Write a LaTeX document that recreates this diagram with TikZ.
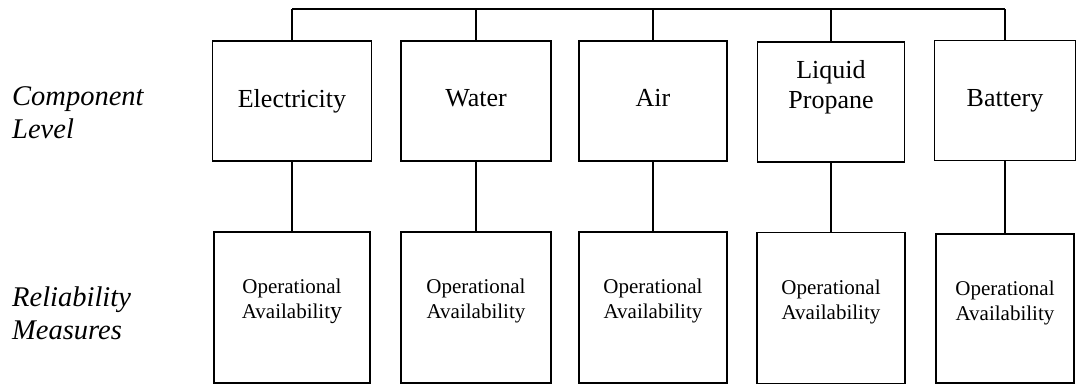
\documentclass[tikz,border=0pt]{standalone}
\usepackage{fontspec}
\setmainfont{Liberation Serif}

\tikzset{
    conn/.style={line width=1.5pt},
    compbox/.style={draw, line width=1.6pt, minimum height=120pt, inner sep=0pt,
        align=center, text depth=6pt, font=\fontsize{26}{30}\selectfont},
    measbox/.style={draw, line width=1.6pt, minimum height=151pt, inner sep=0pt,
        align=center, text depth=18pt, font=\fontsize{21}{25}\selectfont},
    levellbl/.style={anchor=north west, inner sep=0pt, align=left,
        font=\fontsize{28.5}{33.5}\selectfont\itshape}
}

\begin{document}
\begin{tikzpicture}[x=1pt, y=1pt]
    \useasboundingbox (0,0) rectangle (1076,-385);

    % level labels on the left
        \node[levellbl] (complbl) at (12,-86) {Component\\Level};
        \node[levellbl] (measlbl) at (12,-286.5) {Reliability\\Measures};

    % component boxes
        \node[compbox, minimum width=159pt] (elec) at (292,-101) {Electricity};
        \node[compbox, minimum width=150pt] (water) at (476,-101) {Water};
        \node[compbox, minimum width=148pt] (air) at (653,-101) {Air};
        \node[compbox, minimum width=147pt, text depth=36pt] (lpg) at (831,-102) {Liquid\\Propane};
        \node[compbox, minimum width=141pt] (batt) at (1005,-100.5) {Battery};

    % measure boxes
        \node[measbox, minimum width=156pt] (m-elec) at (292,-307.5)
            {Operational\\Availabilit{\fontsize{24}{25}\selectfont y}};
        \node[measbox, minimum width=150pt] (m-water) at (476,-307.5) {Operational\\Availability};
        \node[measbox, minimum width=148pt] (m-air) at (653,-307.5) {Operational\\Availability};
        \node[measbox, minimum width=148pt, text depth=16pt] (m-lpg) at (831,-308) {Operational\\Availability};
        \node[measbox, minimum width=138pt, minimum height=149pt, text depth=16pt] (m-batt) at (1005,-308.5) {Operational\\Availability};

    % bus line on top
        \coordinate (bus) at (0,-9);
        \draw[conn] (elec.north |- bus) -- (batt.north |- bus);

    % drops and links between the rows
    \foreach \n in {elec,water,air,lpg,batt} {
        \draw[conn] (\n.north) -- (\n.north |- bus);
        \draw[conn] (\n.south) -- (m-\n.north);
    }

\end{tikzpicture}
\end{document}
